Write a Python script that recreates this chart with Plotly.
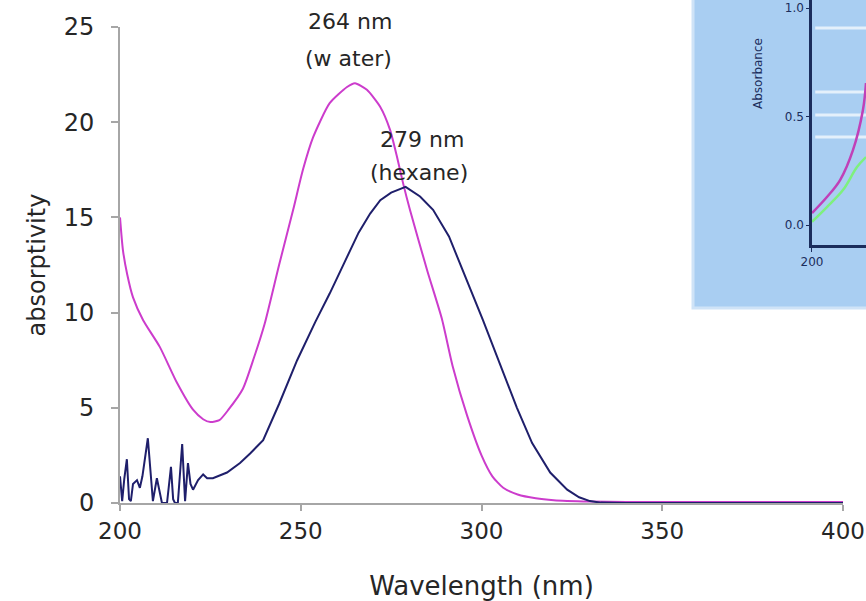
import plotly.graph_objects as go

# ---- main spectra ----
water_nm = [200, 200.8, 202, 203.6, 206.4, 211, 215.8, 220.2, 223, 225, 227.5, 230, 234, 237, 240,
            244, 247.9, 250.6, 253.4, 258, 262.8, 265, 268.3, 272, 274.7, 276.6, 278.3, 280.2,
            285, 289, 292, 296, 300, 303, 306, 310, 315, 320, 330, 340, 360, 400]
water_abs = [15.0, 13.3, 12.0, 10.8, 9.6, 8.2, 6.3, 4.9, 4.4, 4.25, 4.35, 4.9, 6.0, 7.6, 9.4,
             12.5, 15.4, 17.5, 19.2, 21.0, 21.85, 22.05, 21.7, 20.8, 19.6, 18.2, 16.8, 15.4,
             12.2, 9.7, 7.2, 4.6, 2.5, 1.4, 0.8, 0.45, 0.25, 0.15, 0.08, 0.05, 0.05, 0.05]

hexane_nm = [200.0, 200.6, 201.2, 201.9, 202.5, 203.0, 203.6, 204.7, 205.5, 206.2, 207.7, 208.6,
             209.1, 210.2, 211.0, 211.6, 213.0, 214.1, 214.7, 215.2, 216.0, 217.2, 218.0, 218.8,
             219.5, 220.2, 221.6, 223.0, 224.1, 225.7, 229.6, 233.2, 236, 239.6, 244, 249, 254,
             258, 262, 266, 269.2, 272, 275, 279, 283, 286.6, 291, 296, 300.4, 305, 309.8, 314,
             319, 323.7, 327, 330, 333, 340, 400]
hexane_abs = [1.4, 0.1, 1.3, 2.3, 0.2, 0.1, 1.0, 1.2, 0.8, 1.4, 3.4, 1.5,
              0.1, 1.3, 0.6, 0.0, 0.0, 1.9, 0.2, 0.0, 0.0, 3.1, 0.1, 2.1,
              1.0, 0.7, 1.2, 1.5, 1.3, 1.3, 1.6, 2.1, 2.6, 3.3, 5.2, 7.5, 9.5,
              11.0, 12.6, 14.2, 15.2, 15.9, 16.3, 16.6, 16.1, 15.4, 14.0, 11.7, 9.6, 7.35, 5.0, 3.15,
              1.6, 0.7, 0.3, 0.1, 0.02, 0.0, 0.0]

x_ticks = [200, 250, 300, 350, 400]
y_ticks = [0, 5, 10, 15, 20, 25]

# ---- inset (cropped picture of another spectrum) ----
inset_nm_a = [200, 208.3, 215.6, 222.8, 228.3, 230]
inset_abs_a = [0.055, 0.129, 0.207, 0.346, 0.53, 0.654]
inset_nm_b = [200, 208.3, 217.2, 225, 230]
inset_abs_b = [0.015, 0.083, 0.161, 0.267, 0.313]
inset_ticks = [0.0, 0.5, 1.0]
inset_ticktext = ["0.0", "0.5", "1.0"]
inset_band_levels = [0.908, 0.613, 0.507, 0.406]

FONT = "DejaVu Sans"
TXT = "#262626"
AX = "#a6a6a6"
NAVY = "#1b2d5c"
ANN = dict(family=FONT, size=22, color=TXT)

fig = go.Figure()
fig.add_trace(go.Scatter(x=water_nm, y=water_abs, mode="lines",
                         line=dict(color="#cc3ccc", width=2, shape="spline", smoothing=0.6),
                         name="water"))
fig.add_trace(go.Scatter(x=hexane_nm, y=hexane_abs, mode="lines",
                         line=dict(color="#1f1f6b", width=2), name="hexane"))

fig.add_trace(go.Scatter(x=inset_nm_b, y=inset_abs_b, mode="lines", xaxis="x2", yaxis="y2",
                         line=dict(color="#7ef07e", width=2.5, shape="spline")))
fig.add_trace(go.Scatter(x=inset_nm_a, y=inset_abs_a, mode="lines", xaxis="x2", yaxis="y2",
                         line=dict(color="#c040b8", width=2.5, shape="spline")))

shapes = [dict(type="rect", xref="paper", yref="paper", x0=0.7681, x1=1.05, y0=0.3877, y1=1.05,
               fillcolor="#a9cef2", line=dict(color="#cfe3f7", width=3), layer="below")]
for lv in inset_band_levels:
    shapes.append(dict(type="line", xref="x2", yref="y2", x0=201.8, x1=230, y0=lv, y1=lv,
                       line=dict(color="#e4f0fb", width=3), layer="below"))

annotations = [
    dict(x=263.6, y=0.9563, xref="x", yref="paper", text="264 nm", showarrow=False,
         xanchor="center", yanchor="middle", font=ANN),
    dict(x=263.2, y=23.37, xref="x", yref="y", text="(w ater)", showarrow=False,
         xanchor="center", yanchor="middle", font=ANN),
    dict(x=283.5, y=19.07, xref="x", yref="y", text="279 nm", showarrow=False,
         xanchor="center", yanchor="middle", font=ANN),
    dict(x=282.7, y=17.38, xref="x", yref="y", text="(hexane)", showarrow=False,
         xanchor="center", yanchor="middle", font=ANN),
    dict(x=0.8552, y=0.8549, xref="paper", yref="paper", text="Absorbance", showarrow=False,
         xanchor="center", yanchor="middle", textangle=-90,
         font=dict(family=FONT, size=12, color=NAVY)),
]

fig.update_layout(
    width=866, height=601,
    margin=dict(l=120, r=0, t=0, b=98, pad=0, autoexpand=False),
    paper_bgcolor="white", plot_bgcolor="rgba(0,0,0,0)",
    showlegend=False,
    font=dict(family=FONT, color=TXT),
    shapes=shapes,
    annotations=annotations,
    xaxis=dict(domain=[0, 0.9692], range=[200, 400], tickvals=x_ticks, automargin=False,
               showline=True, linecolor=AX, linewidth=2, ticks="outside", ticklen=6,
               tickcolor=AX, tickwidth=1.5, showgrid=False, zeroline=False,
               tickfont=dict(family=FONT, size=23, color=TXT), ticklabelstandoff=0,
               ticklabeloverflow="allow", layer="below traces",
               title=dict(text="Wavelength (nm)", font=dict(family=FONT, size=26, color=TXT),
                          standoff=34)),
    yaxis=dict(domain=[0, 0.94632], range=[0, 25], tickvals=y_ticks, automargin=False,
               showline=True, linecolor=AX, linewidth=2, ticks="outside", ticklen=7,
               tickcolor=AX, tickwidth=1.5, showgrid=False, zeroline=False,
               tickfont=dict(family=FONT, size=24, color=TXT), ticklabelstandoff=12,
               layer="below traces",
               title=dict(text="absorptivity", font=dict(family=FONT, size=24, color=TXT),
                          standoff=11)),
    xaxis2=dict(domain=[0.92761, 1], range=[200, 230], anchor="y2", automargin=False,
                tickvals=[200], ticktext=["200"], showline=True, linecolor=NAVY, linewidth=3,
                ticks="outside", ticklen=4, tickcolor=NAVY, showgrid=False, zeroline=False,
                tickfont=dict(family=FONT, size=12, color=NAVY)),
    yaxis2=dict(domain=[0.51292, 1], range=[-0.092, 1.037], anchor="x2", automargin=False,
                tickvals=inset_ticks, ticktext=inset_ticktext, showline=True, linecolor=NAVY,
                linewidth=2.5, ticks="outside", ticklen=3, tickcolor=NAVY, showgrid=False,
                zeroline=False, ticklabeloverflow="allow",
                tickfont=dict(family=FONT, size=12, color=NAVY)),
)

fig.write_html("out.html", config={"displayModeBar": False},
               post_script="document.body.style.margin='0';document.body.style.overflow='hidden';")
